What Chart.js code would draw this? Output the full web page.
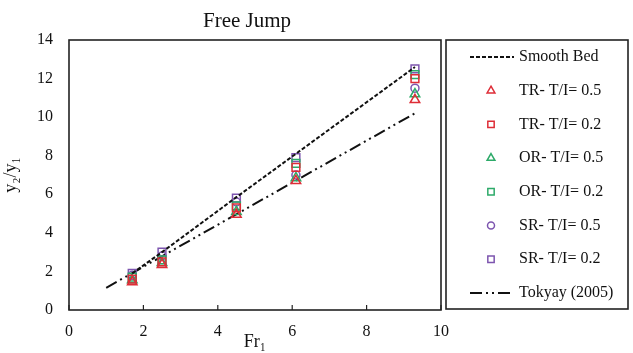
<!DOCTYPE html>
<html>
<head>
<meta charset="utf-8">
<script src="https://cdn.jsdelivr.net/npm/chart.js@4"></script>
<style>
  html, body { margin: 0; padding: 0; background: #fff; }
  #wrap { width: 633px; height: 353px; }
</style>
</head>
<body>
<div id="wrap"><canvas id="chart" width="633" height="353"></canvas></div>
<script>
// Froude numbers of the tests
const froude = [1.7, 2.5, 4.5, 6.1, 9.3];

// y2/y1
const trHalf = [1.45, 2.35, 4.95, 6.7, 10.9];
const trFifth = [1.6, 2.5, 5.3, 7.4, 12.0];
const orHalf = [1.55, 2.45, 5.1, 6.85, 11.2];
const orFifth = [1.7, 2.6, 5.4, 7.6, 12.2];
const srHalf = [1.8, 2.8, 5.6, 7.0, 11.5];
const srFifth = [1.9, 3.0, 5.8, 7.9, 12.5];

// reference curves
const smoothX = [1.7, 2.5, 4.5, 6.1, 9.3];
const smoothY = [1.9, 3.0, 5.85, 8.1, 12.6];
const tokyayX = [1.0, 9.3];
const tokyayY = [1.15, 10.2];

const xTicks = [0, 2, 4, 6, 8, 10];
const yTicks = [0, 2, 4, 6, 8, 10, 12, 14];

const SERIF = '"Liberation Serif", "DejaVu Serif", serif';
const RED = 'rgb(222, 45, 55)';
const GREEN = 'rgb(45, 170, 105)';
const PURPLE = 'rgb(125, 85, 175)';

const pts = (xs, ys) => xs.map((x, i) => ({ x: x, y: ys[i] }));

function markerSet(label, ys, color, style) {
  return {
    label: label,
    data: pts(froude, ys),
    showLine: false,
    pointStyle: style,
    pointRadius: style === 'circle' ? 4 : 5.5,
    pointBorderColor: color,
    pointBackgroundColor: 'rgba(255,255,255,0)',
    pointBorderWidth: 1.5,
    borderColor: color
  };
}

const datasets = [
  {
    label: 'Smooth Bed',
    data: pts(smoothX, smoothY),
    showLine: true,
    borderColor: '#111',
    borderWidth: 2,
    borderDash: [4, 2],
    pointRadius: 0
  },
  markerSet('TR- T/I= 0.5', trHalf, RED, 'triangle'),
  markerSet('TR- T/I= 0.2', trFifth, RED, 'rect'),
  markerSet('OR- T/I= 0.5', orHalf, GREEN, 'triangle'),
  markerSet('OR- T/I= 0.2', orFifth, GREEN, 'rect'),
  markerSet('SR- T/I= 0.5', srHalf, PURPLE, 'circle'),
  markerSet('SR- T/I= 0.2', srFifth, PURPLE, 'rect'),
  {
    label: 'Tokyay (2005)',
    data: pts(tokyayX, tokyayY),
    showLine: true,
    borderColor: '#111',
    borderWidth: 2,
    borderDash: [12, 4, 2, 4, 2, 4],
    pointRadius: 0
  }
];

// frame, inward ticks, title and boxed legend
const framePlugin = {
  id: 'frame',
  afterDraw(chart) {
    const ctx = chart.ctx;
    const a = chart.chartArea;
    const xs = chart.scales.x;
    ctx.save();
    ctx.strokeStyle = '#222';
    ctx.lineWidth = 1.6;
    ctx.strokeRect(a.left, a.top, a.right - a.left, a.bottom - a.top);
    ctx.lineWidth = 1.2;
    xTicks.forEach(v => {
      const px = xs.getPixelForValue(v);
      ctx.beginPath();
      ctx.moveTo(px, a.bottom);
      ctx.lineTo(px, a.bottom - 5);
      ctx.stroke();
    });

    ctx.fillStyle = '#111';
    ctx.font = '21px ' + SERIF;
    ctx.textAlign = 'center';
    ctx.textBaseline = 'middle';
    ctx.fillText('Free Jump', 247, 21);

    // legend box
    const lx = 446, ly = 40, lw = 182, lh = 269;
    ctx.lineWidth = 1.6;
    ctx.strokeRect(lx, ly, lw, lh);
    ctx.font = '16px ' + SERIF;
    ctx.textAlign = 'left';
    chart.data.datasets.forEach((ds, i) => {
      const y = 57 + i * 33.7;
      if (ds.showLine) {
        ctx.save();
        ctx.strokeStyle = ds.borderColor;
        ctx.lineWidth = ds.borderWidth;
        ctx.setLineDash(ds.borderDash);
        ctx.beginPath();
        ctx.moveTo(470, y);
        ctx.lineTo(514, y);
        ctx.stroke();
        ctx.restore();
      } else {
        ctx.save();
        ctx.strokeStyle = ds.pointBorderColor;
        ctx.fillStyle = 'rgba(255,255,255,0)';
        ctx.lineWidth = ds.pointBorderWidth;
        Chart.helpers.drawPoint(ctx, {
          pointStyle: ds.pointStyle,
          radius: ds.pointStyle === 'circle' ? 3.5 : 4.5,
          borderWidth: ds.pointBorderWidth,
          rotation: 0
        }, 491, y);
        ctx.restore();
      }
      ctx.fillStyle = '#111';
      ctx.fillText(ds.label, 519, y);
    });
    ctx.restore();
  }
};

new Chart(document.getElementById('chart').getContext('2d'), {
  type: 'scatter',
  data: { datasets: datasets },
  options: {
    responsive: false,
    animation: false,
    layout: { padding: { top: 40, right: 192, left: 0, bottom: 0 } },
    plugins: {
      legend: { display: false },
      tooltip: { enabled: false }
    },
    scales: {
      x: {
        type: 'linear',
        min: 0,
        max: 10,
        afterBuildTicks: s => { s.ticks = xTicks.map(v => ({ value: v })); },
        afterFit: s => { s.height = 43; },
        grid: { display: false, drawTicks: false },
        border: { display: false },
        ticks: { color: '#111', font: { family: SERIF, size: 16 }, padding: 12 },
        title: {
          display: true,
          text: 'Fr\u2081',
          color: '#111',
          font: { family: SERIF, size: 18 },
          padding: { top: -6, bottom: 0 }
        }
      },
      y: {
        type: 'linear',
        min: 0,
        max: 14,
        afterBuildTicks: s => { s.ticks = yTicks.map(v => ({ value: v })); },
        afterFit: s => { s.width = 69; },
        grid: { display: false, drawTicks: false },
        border: { display: false },
        ticks: { color: '#111', font: { family: SERIF, size: 16 }, padding: 16 },
        title: {
          display: true,
          text: 'y\u2082/y\u2081',
          color: '#111',
          font: { family: SERIF, size: 18 },
          padding: { top: 0, bottom: 0 }
        }
      }
    }
  },
  plugins: [framePlugin]
});
</script>
</body>
</html>
